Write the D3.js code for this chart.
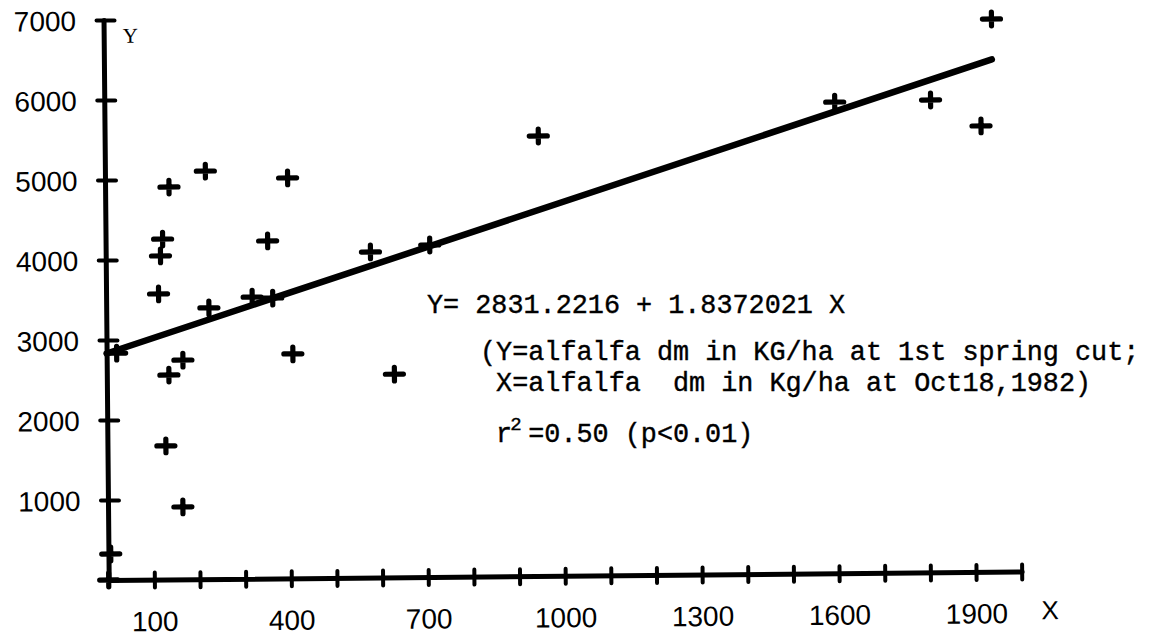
<!DOCTYPE html>
<html>
<head>
<meta charset="utf-8">
<script src="https://cdn.jsdelivr.net/npm/d3@7/dist/d3.min.js"></script>
<style>
  html, body { margin: 0; padding: 0; background: #fff; }
  svg { display: block; }
  .mono { white-space: pre; }
</style>
</head>
<body>
<script>
// Alfalfa dry matter: autumn (X) vs. first spring cut (Y), kg/ha
const pointX = [0, 5, 22, 115, 120, 125, 128, 136, 140, 164, 167, 220, 225, 320, 355, 365, 400, 408, 580, 630, 710, 950, 1600, 1810, 1920, 1945];
const pointY = [0, 325, 2835, 3570, 4045, 4255, 1670, 2555, 4905, 905, 2740, 5100, 3390, 3520, 4220, 3505, 5005, 2805, 4070, 2540, 4150, 5500, 5890, 5905, 5575, 6910];

// Fitted regression
const intercept = 2831.2216;
const slope = 1.8372021;

// Axis ticks and labels
const xTicks = d3.range(100, 2001, 100);
const xTickLabels = [100, 400, 700, 1000, 1300, 1600, 1900];
const yTicks = [1000, 2000, 3000, 4000, 5000, 6000, 7000];

const equationText = "Y= 2831.2216 + 1.8372021 X";
const noteLines = ["(Y=alfalfa dm in KG/ha at 1st spring cut;", " X=alfalfa  dm in Kg/ha at Oct18,1982)"];
const fitText = [" r", "2", "=0.50 (p<0.01)"];

const W = 1150, H = 639;
const svg = d3.select("body").append("svg").attr("width", W).attr("height", H);

const x = d3.scaleLinear().domain([0, 2000]).range([108.7, 1021.7]);
const y = d3.scaleLinear().domain([0, 7000]).range([580, 20]);

// the whole plotting frame sits with a slight tilt
const plot = svg.append("g")
  .attr("transform", `rotate(-0.53, ${x(0)}, ${y(0)})`);

const tickFont = "'Liberation Sans', Arial, sans-serif";

// Y axis
const yAxis = plot.append("g")
  .attr("transform", `translate(${x(0)},0)`)
  .call(d3.axisLeft(y).tickValues(yTicks).tickSize(0).tickSizeOuter(0)
    .tickPadding(27.5).tickFormat(d3.format("d")));
yAxis.attr("font-family", tickFont).attr("font-size", 28);
yAxis.select(".domain").attr("stroke", "#000").attr("stroke-width", 5).attr("stroke-linecap", "round");
yAxis.selectAll(".tick line").attr("x1", -7).attr("x2", 11)
  .attr("stroke", "#000").attr("stroke-width", 4).attr("stroke-linecap", "round");
yAxis.selectAll(".tick text").attr("fill", "#000").attr("dy", "0.36em");

// X axis
const xAxis = plot.append("g")
  .attr("transform", `translate(0,${y(0)})`)
  .call(d3.axisBottom(x).tickValues(xTicks).tickSize(0).tickSizeOuter(0)
    .tickFormat(d => xTickLabels.includes(d) ? String(d) : ""));
xAxis.attr("font-family", tickFont).attr("font-size", 28);
xAxis.select(".domain").attr("stroke", "#000").attr("stroke-width", 5).attr("stroke-linecap", "round");
xAxis.selectAll(".tick line").attr("y1", -7).attr("y2", 8)
  .attr("stroke", "#000").attr("stroke-width", 4).attr("stroke-linecap", "round");
xAxis.selectAll(".tick text").attr("fill", "#000").attr("y", 51.5).attr("dy", 0);

// axis names
plot.append("text")
  .attr("x", x(0) + 19).attr("y", y(7000) + 23)
  .attr("font-family", "'Liberation Serif', 'Times New Roman', serif")
  .attr("font-size", 21).attr("fill", "#000")
  .text("Y");
plot.append("text")
  .attr("x", x(2000) + 28).attr("y", y(0) + 48)
  .attr("text-anchor", "middle")
  .attr("font-family", tickFont).attr("font-size", 26).attr("fill", "#000")
  .text("X");

// regression line over the observed X range
const xr = d3.extent(pointX);
const fitLine = d3.line().x(d => x(d)).y(d => y(intercept + slope * d));
plot.append("path")
  .attr("d", fitLine(xr))
  .attr("fill", "none").attr("stroke", "#000")
  .attr("stroke-width", 6.5).attr("stroke-linecap", "round");

// observations as plus marks
const points = pointX.map((v, i) => ({ x: v, y: pointY[i] }));
plot.selectAll("path.pt").data(points).join("path")
  .attr("class", "pt")
  .attr("d", "M-9,0H9M0,-6.8V6.8")
  .attr("transform", d => `translate(${x(d.x)},${y(d.y)})`)
  .attr("fill", "none").attr("stroke", "#000")
  .attr("stroke-width", 5.2).attr("stroke-linecap", "round");

// equation and notes
const monoFont = "'Liberation Mono', 'Courier New', monospace";
const notes = svg.append("g")
  .attr("font-family", monoFont).attr("font-size", 26.8)
  .attr("fill", "#000").attr("stroke", "#000").attr("stroke-width", 0.4);

notes.append("text").attr("class", "mono").attr("x", 427).attr("y", 313).text(equationText);
notes.selectAll("text.note").data(noteLines).join("text")
  .attr("class", "mono note")
  .attr("x", 480).attr("y", (d, i) => [360, 391][i])
  .text(d => d);

const adv = 26.8 * 0.6;
const fit = notes.append("text").attr("class", "mono").attr("x", 480).attr("y", 442);
fit.append("tspan").text(fitText[0]);
fit.append("tspan").attr("x", 480 + 2 * adv - 2).attr("dy", -12).attr("font-size", 19).text(fitText[1]);
fit.append("tspan").attr("x", 480 + 3 * adv).attr("dy", 12).text(fitText[2]);
</script>
</body>
</html>
